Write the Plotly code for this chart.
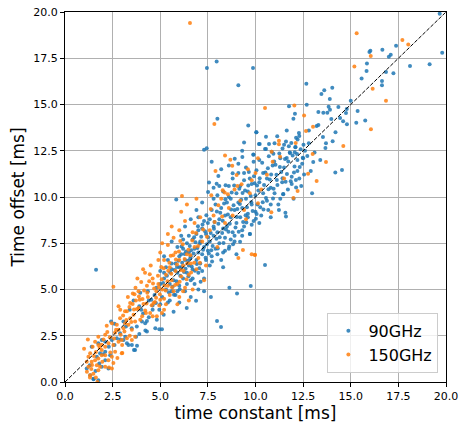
import plotly.graph_objects as go

# 90GHz (blue) points: (time constant, time offset)
blue_x = [1.63,1.14,1.49,1.75,1.32,1.4,1.67,1.84,1.75,1.93,2.11,2.11,2.11,1.93,2.28,2.37,2.46,1.5,
 2.42,2.6,2.89,3.16,3.07,3.33,3.68,3.51,3.25,2.72,3.07,3.77,4.04,4.21,4.3,4.74,5.09,4.82,5.18,4.95,4.6,4.77,4.53,4.35,3.95,3.62,3.78,3.73,4.22,4.95,3.4,3.9,4.1,4.4,3.6,
 5.1,5.3,5.2,5.4,5.5,5.6,5.6,5.7,5.8,5.8,5.9,6.0,6.0,6.1,6.2,6.2,6.3,6.3,6.4,6.4,6.5,6.5,6.6,6.6,6.7,6.7,6.8,6.8,6.9,6.9,7.0,7.0,7.1,7.1,7.2,7.2,7.3,7.3,7.4,7.4,7.5,7.5,5.9,6.1,5.4,5.0,5.7,6.39,6.88,7.66,6.0,6.6,7.0,5.2,6.3,6.6,7.0,5.6,6.9,7.2,5.84,7.3,
 7.6,7.6,7.7,7.7,7.8,7.8,7.9,7.9,8.0,8.0,8.1,8.1,8.2,8.2,8.3,8.3,8.4,8.4,8.5,8.5,8.6,8.6,8.7,8.7,8.8,8.8,8.9,8.9,9.0,9.0,9.1,9.1,9.2,9.2,9.3,9.3,9.4,9.4,9.5,9.5,9.6,9.6,9.7,9.7,9.8,9.8,9.9,9.9,10.0,10.0,
 7.96,8.43,7.51,7.56,8.05,8.8,8.91,9.31,9.1,9.89,7.3,7.44,9.4,10.18,9.62,10.05,8.0,9.1,7.45,7.96,9.87,9.71,9.19,8.82,8.63,9.03,9.75,7.98,8.19,10.5,8.3,9.0,8.6,7.8,8.2,9.3,7.7,
 10.1,10.2,10.2,10.3,10.4,10.4,10.5,10.6,10.6,10.7,10.8,10.8,10.9,11.0,11.0,11.1,11.2,11.3,11.4,11.5,11.6,11.7,11.8,11.9,12.0,12.1,12.2,12.3,12.4,12.5,
 10.04,10.55,11.14,12.13,12.21,10.22,10.71,10.55,11.5,12.09,12.37,10.94,9.89,11.81,12.06,11.64,12.48,11.46,11.23,11.57,11.6,10.67,10.06,12.97,12.55,12.13,11.76,12.69,11.99,12.07,11.64,12.28,12.67,
 13.03,14.19,14.54,13.54,14.05,13.67,13.21,13.3,14.8,15.29,15.76,13.98,14.44,13.56,13.77,14.75,15.36,13.84,13.91,14.35,14.79,15.0,13.46,13.61,14.03,15.57,16.64,16.64,15.83,16.85,17.24,15.85,18.11,19.14,17.0,17.1,15.98,16.03,16.66,17.38,19.8,19.67,13.1,12.8]
blue_y = [6.07,0.73,0.18,0.09,0.36,1.91,1.36,1.55,2.09,2.27,2.18,1.64,1.18,0.82,0.73,1.45,2.27,0.15,
 3.27,3.15,2.64,2.45,2.27,2.0,1.73,2.0,2.09,2.36,3.27,3.0,3.27,3.18,2.73,2.91,2.85,3.36,3.64,3.91,4.13,4.27,4.45,4.91,4.82,1.73,1.96,2.45,2.79,2.85,3.9,4.1,3.7,3.5,4.4,
 4.6,5.0,5.6,4.3,5.3,4.9,6.1,5.5,4.7,6.4,5.9,5.2,6.8,6.2,5.6,7.2,6.6,4.9,5.9,7.5,6.3,7.0,5.5,6.8,7.7,6.1,7.2,5.3,6.6,8.0,7.0,5.9,7.6,6.4,8.3,6.9,7.3,5.6,8.0,6.6,7.1,8.6,7.3,7.9,6.6,6.0,3.8,4.0,4.39,4.59,4.3,4.6,5.0,6.8,8.4,8.8,8.9,7.6,9.3,9.7,9.87,4.9,
 7.6,8.8,6.8,9.3,7.9,8.4,7.2,9.6,8.1,10.1,7.5,8.8,9.4,6.6,8.3,10.3,7.8,9.0,9.7,8.4,7.2,10.6,8.9,9.9,8.1,11.0,9.3,7.6,10.2,8.6,9.7,11.3,8.9,10.6,7.9,9.4,10.9,8.4,9.9,11.6,9.1,10.3,8.0,11.0,9.6,10.7,8.7,11.9,10.1,9.2,
 10.72,10.63,10.27,10.79,11.14,11.28,12.07,12.16,11.8,12.3,12.56,12.63,12.95,12.86,13.86,13.5,14.23,16.04,16.97,17.33,16.97,8.0,7.58,7.44,5.1,4.79,5.19,3.3,2.97,6.32,6.2,6.9,11.7,10.5,11.5,12.5,11.9,
 9.6,10.8,12.0,9.0,11.3,10.2,12.6,9.8,11.0,12.2,10.5,8.9,11.7,10.2,12.9,11.2,9.6,12.1,10.8,11.6,13.0,10.4,12.4,11.1,9.9,12.7,11.4,13.3,10.6,12.1,
 13.5,13.26,13.28,13.2,13.11,12.86,12.86,12.59,12.83,12.69,12.58,12.34,12.29,12.38,12.42,12.11,12.12,10.16,9.3,9.15,8.95,9.3,9.08,10.2,11.22,10.52,14.9,14.99,14.23,14.5,13.6,13.46,16.12,
 11.89,11.33,11.46,13.24,13.01,12.65,13.84,13.89,13.93,14.02,14.13,14.22,14.27,14.56,14.56,14.54,14.65,14.88,14.72,14.86,14.76,15.2,15.57,15.77,15.91,16.4,16.27,16.04,16.81,16.76,16.69,17.22,17.08,17.17,17.58,17.69,17.84,17.91,17.96,18.18,17.8,19.91,12.4,12.9]

# more 90GHz points read from the dense core of the cloud
blue_core = [(5.15,5.35),(5.35,5.75),(5.45,4.85),(5.65,5.15),(5.75,6.05),(5.85,5.45),(5.95,6.55),(6.05,5.75),
 (6.15,6.45),(6.25,5.95),(6.35,7.05),(6.45,6.55),(6.55,7.35),(6.65,6.25),(6.75,6.95),(6.85,7.55),(6.95,7.25),
 (7.05,6.15),(7.15,7.85),(7.25,7.15),(7.35,8.15),(7.45,7.45),(7.55,6.95),(7.65,8.05),(7.75,7.35),(7.85,8.65),
 (7.95,7.75),(8.05,8.55),(8.15,9.15),(8.25,8.05),(8.35,9.65),(8.45,8.25),(8.55,9.05),(8.65,8.55),(8.75,10.25),
 (8.85,9.55),(8.95,8.35),(9.05,9.35),(9.15,10.45),(9.25,9.85),(9.35,8.65),(9.45,10.35),(9.55,9.45),(9.65,11.35),
 (9.75,10.05),(9.85,9.25),(9.95,10.75),(10.05,11.45),(10.15,10.35),(10.25,9.45),(10.35,11.85),(10.45,10.65),
 (10.55,9.95),(10.65,11.55),(10.75,10.95),(10.85,12.45),(10.95,10.45),(11.05,11.75),(11.15,10.65),(11.25,12.35),
 (11.35,11.35),(11.45,10.15),(11.55,12.05),(11.65,11.25),(11.75,12.75),(11.85,10.85),(11.95,12.25),(12.05,11.65),
 (12.2,12.0),(12.45,11.8),(12.6,12.5),(6.2,7.7),(6.5,7.9),(6.0,6.2),(7.0,8.2),(7.3,8.7),(7.8,9.9),(8.1,10.6),
 (8.6,10.0),(9.4,11.3),(7.2,6.0),(7.6,6.3),(8.0,6.9),(8.4,7.1),(8.9,7.9),(9.3,8.2),(9.8,8.5),(6.7,5.6),(6.4,5.3),
 (5.9,4.9),(5.5,4.4),(5.0,4.2),(4.6,3.9),(4.3,3.3),(3.9,2.6),(3.5,2.9),(4.7,4.7),(5.2,5.9),(5.6,6.4),(6.1,6.9),
 (5.3,6.2),(5.0,5.3),(4.8,5.1),(4.4,4.4),(4.0,3.9),(3.2,3.0),(2.9,2.3),(2.6,2.0),(2.3,1.9),(2.0,1.5),(1.8,1.0),
 (1.6,0.6),(1.3,0.9),(8.3,7.0),(8.7,7.7),(9.6,8.9),(10.2,8.6),(10.8,9.6),(11.3,9.9),(11.9,10.7),(12.3,11.0),
 (12.9,11.4),(13.4,12.0),(13.7,12.9),(14.2,13.5),(14.6,14.1),(12.8,13.6),(13.3,14.6),(13.9,15.3),
 (6.12,7.32),(6.33,6.12),(6.57,6.68),(6.78,7.82),(6.92,6.38),(7.08,7.48),(7.22,8.52),(7.38,6.72),(7.52,7.82),
 (7.68,7.12),(7.82,8.28),(7.97,9.22),(8.12,7.82),(8.28,8.72),(8.42,9.88),(8.58,8.12),(8.72,9.32),(8.88,10.62),
 (9.02,8.92),(9.18,9.62),(9.32,10.22),(9.48,9.02),(9.62,10.62),(9.78,9.72),(9.92,11.12),(10.08,10.62),(10.22,11.02),
 (10.38,9.72),(10.52,11.32),(10.68,10.42),(10.82,11.22),(10.98,11.92),(11.12,10.92),(11.28,11.62),(11.42,12.62),
 (11.58,10.82),(11.72,11.92),(11.88,12.92),(12.02,11.32),(12.18,12.32),(12.32,11.62),(12.52,12.82),(12.72,12.22),
 (5.52,5.92),(5.72,4.72),(5.88,6.22),(6.02,5.02),(6.28,6.92),(6.48,5.72),(6.62,7.12),(6.82,6.02),(6.98,8.42),
 (7.12,5.42),(7.42,9.02),(7.72,6.52),(8.02,7.22),(8.32,7.52),(8.62,7.32),(9.12,8.12),(9.52,8.62),(10.02,8.82),
 (10.42,9.32),(10.92,9.92),(11.42,11.02),(12.12,10.92)]

# 150GHz (orange) points
orange_x = [2.46,2.19,2.11,1.75,1.58,1.75,1.93,2.11,2.28,2.54,1.93,1.75,1.58,1.32,1.23,1.4,1.67,1.75,1.49,1.32,1.23,1.14,1.96,2.11,2.28,2.46,2.11,1.84,2.46,2.31,1.70,1.31,2.54,3.01,2.98,2.63,1.0,1.2,1.45,
 3.56,3.86,4.35,3.72,4.07,4.65,4.95,2.81,3.42,3.25,3.86,4.21,4.47,4.6,4.25,3.6,3.42,3.68,3.95,3.16,2.89,3.07,3.33,3.51,3.12,2.81,2.63,2.81,2.98,3.25,3.51,3.68,5.09,4.82,5.0,2.54,4.0,4.3,4.6,4.8,4.2,3.7,4.5,4.9,
 5.1,5.2,5.3,5.4,5.5,5.5,5.6,5.7,5.8,5.9,6.0,6.0,6.1,6.2,6.3,6.4,6.5,6.6,6.7,6.8,6.9,7.0,7.2,7.4,5.2,5.0,5.4,5.7,6.0,6.3,6.1,6.7,5.8,5.3,5.9,6.5,7.1,6.14,6.9,5.6,
 7.6,7.8,8.0,8.2,8.4,8.6,8.9,9.2,9.5,9.8,8.28,8.38,7.68,8.4,8.68,8.78,9.01,9.27,7.84,6.56,9.8,9.34,9.1,9.97,7.9,9.6,
 10.13,10.83,9.97,10.5,12.04,12.55,13.02,12.65,11.23,11.23,12.11,14.61,10.85,10.13,11.29,13.0,13.7,12.76,13.21,12.21,11.99,16.06,16.85,16.15,15.19,16.05,15.31,17.71,18.02,10.6,11.5]
orange_y = [3.18,3.04,2.55,2.45,2.18,2.0,1.73,1.91,2.09,2.0,1.45,1.27,1.18,1.55,1.36,1.09,0.91,0.64,0.45,0.36,0.82,1.09,1.09,0.82,1.18,1.36,1.45,0.82,0.73,0.79,0.0,0.24,1.03,1.57,1.55,1.64,1.8,2.3,1.9,
 4.78,4.91,4.6,4.4,4.49,4.27,4.13,4.09,4.27,3.82,4.0,3.87,3.73,3.55,3.73,3.64,3.45,3.27,3.36,3.18,3.45,2.91,3.09,2.82,2.73,2.82,2.67,2.18,2.27,2.36,2.27,2.45,3.73,3.55,4.45,5.15,5.4,5.2,5.6,4.9,5.9,5.1,6.3,5.3,
 5.0,4.5,5.8,5.2,4.7,6.2,5.5,4.9,6.0,5.3,6.6,4.6,5.7,6.3,5.1,6.9,5.8,6.4,5.0,7.3,6.1,6.7,7.6,6.3,6.6,7.0,7.4,7.8,8.2,8.7,9.2,8.1,7.0,4.2,4.2,4.4,8.9,10.05,9.9,8.4,
 8.2,9.0,7.3,9.9,8.6,9.4,10.4,9.8,8.8,10.9,10.36,10.25,10.09,12.25,12.02,11.69,11.19,10.69,13.95,19.4,6.9,7.14,6.7,6.86,11.4,11.5,
 9.66,9.17,6.88,14.81,14.95,14.4,13.8,13.57,13.04,12.85,12.92,12.76,12.45,12.09,12.18,12.32,11.89,11.26,10.86,10.32,9.95,13.66,15.2,15.85,17.06,17.62,18.85,18.49,18.25,11.2,11.0]

# more 150GHz points read from the dense lower-left part of the cloud
orange_core = [(1.15,0.55),(1.38,0.7),(1.52,1.4),(1.62,0.25),(1.82,1.85),(2.02,2.3),(2.22,2.7),(2.38,1.6),
 (2.58,2.35),(2.72,3.1),(2.92,2.55),(3.05,3.6),(3.22,3.35),(3.38,4.05),(3.48,3.25),(3.65,4.75),(3.78,3.95),
 (3.92,4.45),(4.05,3.55),(4.15,4.95),(4.28,4.25),(4.42,5.45),(4.55,4.15),(4.68,5.05),(4.78,4.55),(4.88,5.75),
 (4.98,4.75),(5.08,5.55),(5.18,6.15),(5.28,4.95),(5.38,5.45),(5.48,6.45),(5.58,5.85),(5.68,6.85),(5.78,5.25),
 (5.88,6.35),(5.98,7.05),(6.08,6.05),(6.18,7.45),(6.28,6.65),(6.38,5.55),(6.48,7.15),(6.58,6.85),(6.68,7.65),
 (6.78,6.45),(6.88,8.05),(6.98,7.35),(7.08,6.45),(7.25,8.25),(7.45,7.85),(7.65,9.35),(7.85,8.65),(8.05,9.55),
 (8.25,8.95),(8.55,10.15),(8.8,9.0),(9.05,10.6),(9.4,9.3),(9.7,10.2),(10.0,11.3),(10.3,10.4),(10.9,11.9),
 (4.1,6.1),(3.8,5.6),(3.3,4.6),(2.9,3.9),(5.4,8.0),(5.1,7.5),(6.4,9.6),(6.8,8.6),(4.9,6.6),(5.2,3.9),(6.2,4.9),
 (7.3,5.5),(3.0,2.0),(3.4,2.5),(2.75,1.3),
 (3.15,3.82),(3.55,4.22),(3.88,4.62),(4.32,4.82),(4.62,5.32),(4.92,5.12),(5.22,5.22),(5.42,6.02),(5.62,5.12),
 (5.82,6.62),(6.02,5.42),(6.22,6.02),(6.42,6.42),(6.62,5.92),(4.72,4.32),(4.12,4.22),(3.62,3.92),(2.68,2.82),
 (2.35,2.42),(1.92,2.02),(1.62,1.62),(1.42,0.92),(5.05,6.22),(5.55,6.82),(6.05,7.62),(4.45,5.82)]

diag = [0, 20]
tick_vals = [0, 2.5, 5, 7.5, 10, 12.5, 15, 17.5, 20]
tick_text = ["0.0", "2.5", "5.0", "7.5", "10.0", "12.5", "15.0", "17.5", "20.0"]

bx = blue_x + [p[0] for p in blue_core]
by = blue_y + [p[1] for p in blue_core]
ox = orange_x + [p[0] for p in orange_core]
oy = orange_y + [p[1] for p in orange_core]

fig = go.Figure()
fig.add_trace(go.Scatter(x=bx, y=by, mode="markers", name="90GHz",
                         marker=dict(color="#1f77b4", size=4, opacity=0.85, line=dict(width=0))))
fig.add_trace(go.Scatter(x=ox, y=oy, mode="markers", name="150GHz",
                         marker=dict(color="#ff7f0e", size=4, opacity=0.85, line=dict(width=0))))
fig.add_trace(go.Scatter(x=diag, y=diag, mode="lines", showlegend=False,
                         line=dict(color="black", width=1, dash="4px,1.6px")))

axis_common = dict(range=[0, 20], tickvals=tick_vals, ticktext=tick_text,
                   showgrid=True, gridcolor="#b0b0b0", gridwidth=1,
                   showline=True, linecolor="black", linewidth=1, mirror=True,
                   ticks="outside", ticklen=4, tickcolor="black",
                   tickfont=dict(family="DejaVu Sans", size=11, color="black"),
                   ticklabeloverflow="allow",
                   zeroline=False, automargin=False)

fig.update_layout(
    width=460, height=425,
    margin=dict(l=65, r=14, t=12, b=43),
    paper_bgcolor="white", plot_bgcolor="white",
    font=dict(family="DejaVu Sans", color="black"),
    xaxis=dict(**axis_common, title=dict(text="time constant [ms]", font=dict(size=17), standoff=2)),
    yaxis=dict(**axis_common, title=dict(text="Time offset [ms]", font=dict(size=17), standoff=4)),
    legend=dict(x=0.98, y=0.025, xanchor="right", yanchor="bottom",
                bgcolor="rgba(255,255,255,0.8)", bordercolor="#cccccc", borderwidth=1,
                font=dict(size=16), itemsizing="trace"),
    showlegend=True,
)

# remove the default page margin so the figure sits at the window's top-left corner
fig.write_html("out.html", config={"displayModeBar": False},
               post_script="document.body.style.margin='0';")
